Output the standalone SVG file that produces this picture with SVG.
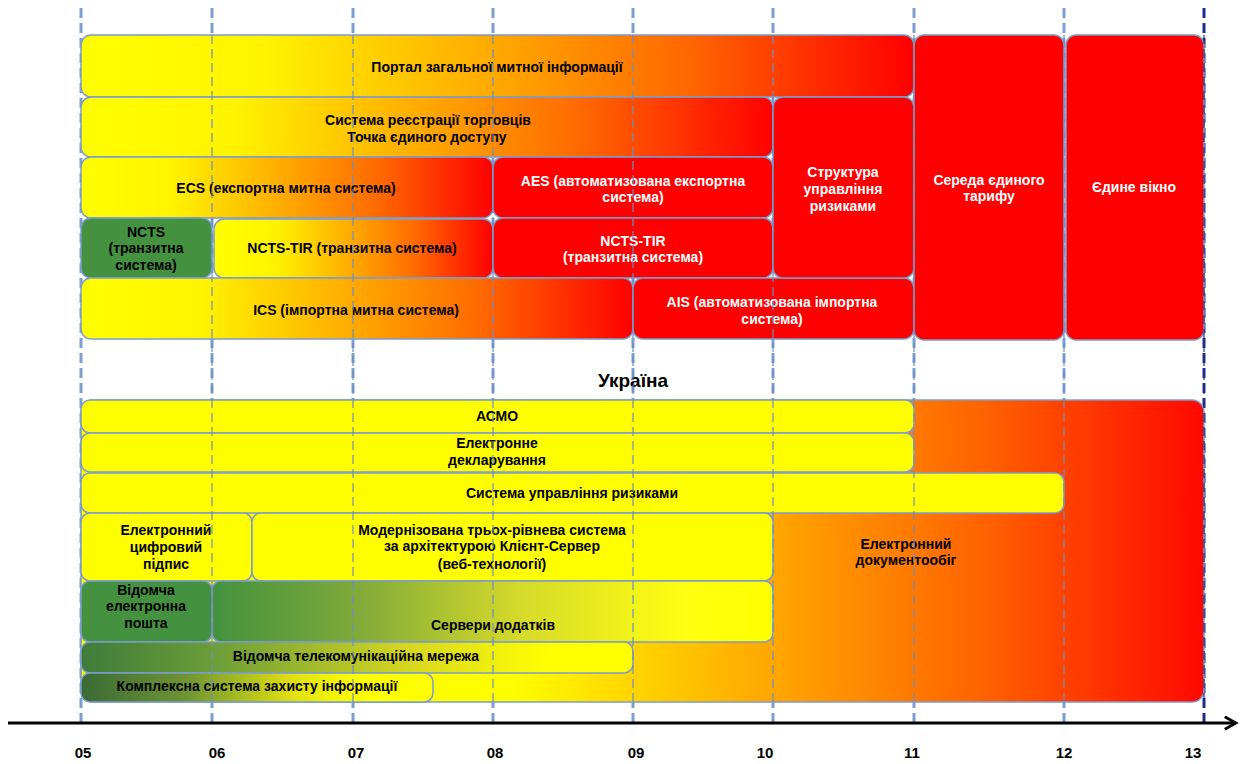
<svg xmlns="http://www.w3.org/2000/svg" width="1242" height="764" viewBox="0 0 1242 764">
<defs>
<linearGradient id="gYR" x1="0" y1="0" x2="1" y2="0">
<stop offset="0" stop-color="#FFFF00"/><stop offset="0.22" stop-color="#FFF300"/><stop offset="0.47" stop-color="#FFB000"/><stop offset="0.72" stop-color="#FF6A00"/><stop offset="1" stop-color="#FF0000"/>
</linearGradient>
<linearGradient id="gBig" x1="0" y1="0" x2="1" y2="0">
<stop offset="0" stop-color="#FFFF00"/><stop offset="0.38" stop-color="#FFFF00"/><stop offset="0.6" stop-color="#FFAC00"/><stop offset="0.8" stop-color="#FF6400"/><stop offset="1" stop-color="#FF0800"/>
</linearGradient>
<linearGradient id="gSrv" x1="0" y1="0" x2="1" y2="0">
<stop offset="0" stop-color="#43923F"/><stop offset="0.25" stop-color="#7DA83A"/><stop offset="0.55" stop-color="#D6DA2A"/><stop offset="0.85" stop-color="#FFFF10"/><stop offset="1" stop-color="#FFFF00"/>
</linearGradient>
<linearGradient id="gTel" x1="0" y1="0" x2="1" y2="0">
<stop offset="0" stop-color="#3E7C3A"/><stop offset="0.25" stop-color="#6E9E38"/><stop offset="0.6" stop-color="#D8D820"/><stop offset="0.85" stop-color="#FFFF00"/><stop offset="1" stop-color="#FFFF00"/>
</linearGradient>
<linearGradient id="gKom" x1="0" y1="0" x2="1" y2="0">
<stop offset="0" stop-color="#3A6A35"/><stop offset="0.3" stop-color="#6E9532"/><stop offset="0.6" stop-color="#E0E010"/><stop offset="0.8" stop-color="#FFFF00"/><stop offset="1" stop-color="#FFFF00"/>
</linearGradient>
<marker id="arr" viewBox="0 0 12 12" refX="10" refY="6" markerWidth="5" markerHeight="5" orient="auto" markerUnits="strokeWidth">
<path d="M1,1 L10,6 L1,11" fill="none" stroke="#000" stroke-width="2.2"/>
</marker>
<style>
.b{stroke:#7C9CCC;stroke-width:1.5}
.t{font-family:"Liberation Sans",Arial,sans-serif;font-weight:bold;font-size:14px;text-anchor:middle;fill:#000}
.w{fill:#fff}
.dk{stroke:#7A9FD0;stroke-width:3;stroke-dasharray:10 5;fill:none}
.dt{stroke:#6D8EC4;stroke-width:1.2;stroke-dasharray:9 5;fill:none}
.ax{font-family:"Liberation Sans",Arial,sans-serif;font-weight:bold;font-size:15px;text-anchor:middle;fill:#000}
</style>
</defs>
<rect width="1242" height="764" fill="#fff"/>
<g id="gridlines-back">
<path class="dk" d="M81,8V723M212,8V723M353,8V723M493,8V723M633,8V723M773,8V723M914,8V723M1064,8V723"/>
<path class="dk" d="M1204,8V723" style="stroke:#1F2E8C"/>
</g>
<g id="top">
<g id="n-portal"><rect class="b" x="81" y="35" width="833" height="62" rx="10" fill="url(#gYR)"/><text class="t" x="497" y="72">Портал загальної митної інформації</text></g>
<g id="n-reg"><rect class="b" x="81" y="97" width="692" height="60" rx="10" fill="url(#gYR)"/><text class="t" x="428" y="125">Система реєстрації торговців</text><text class="t" x="427" y="142">Точка єдиного доступу</text></g>
<g id="n-ecs"><rect class="b" x="81" y="157" width="412" height="61" rx="10" fill="url(#gYR)"/><text class="t" x="286" y="193">ECS (експортна митна система)</text></g>
<g id="n-aes"><rect class="b" x="493" y="157" width="280" height="61" rx="10" fill="#FF0000"/><text class="t w" x="633" y="186">AES (автоматизована експортна</text><text class="t w" x="633" y="202">система)</text></g>
<g id="n-ncts"><rect class="b" x="81" y="218" width="131" height="60" rx="10" fill="#44923F"/><text class="t" x="146" y="237">NCTS</text><text class="t" x="146" y="253">(транзитна</text><text class="t" x="146" y="270">система)</text></g>
<g id="n-nctstir1"><rect class="b" x="214" y="219" width="279" height="59" rx="10" fill="url(#gYR)"/><text class="t" x="352" y="253">NCTS-TIR (транзитна система)</text></g>
<g id="n-nctstir2"><rect class="b" x="493" y="218" width="280" height="60" rx="10" fill="#FF0000"/><text class="t w" x="633" y="246">NCTS-TIR</text><text class="t w" x="633" y="262">(транзитна система)</text></g>
<g id="n-ics"><rect class="b" x="81" y="278" width="552" height="61" rx="10" fill="url(#gYR)"/><text class="t" x="356" y="315">ICS (імпортна митна система)</text></g>
<g id="n-ais"><rect class="b" x="633" y="278" width="281" height="61" rx="10" fill="#FF0000"/><text class="t w" x="772" y="307">AIS (автоматизована імпортна</text><text class="t w" x="772" y="324">система)</text></g>
<g id="n-risk"><rect class="b" x="773" y="97" width="141" height="181" rx="10" fill="#FF0000"/><text class="t w" x="843" y="177">Структура</text><text class="t w" x="843" y="194">управління</text><text class="t w" x="843" y="211">ризиками</text></g>
<g id="n-tariff"><rect class="b" x="914" y="35" width="150" height="305" rx="10" fill="#FF0000"/><text class="t w" x="989" y="185">Середа єдиного</text><text class="t w" x="989" y="201">тарифу</text></g>
<g id="n-window"><rect class="b" x="1066" y="35" width="138" height="305" rx="10" fill="#FF0000"/><text class="t w" x="1134" y="192">Єдине вікно</text></g>
</g>
<g id="n-ukraine"><text class="t" x="633" y="387" style="font-size:19px">Україна</text></g>
<g id="bottom">
<g id="n-edoc"><rect class="b" x="81" y="400" width="1123" height="302" rx="12" fill="url(#gBig)"/><text class="t" x="906" y="549">Електронний</text><text class="t" x="906" y="565">документообіг</text></g>
<g id="n-asmo"><rect class="b" x="81" y="400" width="833" height="33" rx="9" fill="#FFFF00"/><text class="t" x="497" y="421">АСМО</text></g>
<g id="n-edecl"><rect class="b" x="81" y="433" width="833" height="39" rx="9" fill="#FFFF00"/><text class="t" x="497" y="448">Електронне</text><text class="t" x="497" y="465">декларування</text></g>
<g id="n-sur"><rect class="b" x="81" y="473" width="983" height="40" rx="9" fill="#FFFF00"/><text class="t" x="572" y="498">Система управління ризиками</text></g>
<g id="n-ecp"><rect class="b" x="81" y="513" width="171" height="68" rx="9" fill="#FFFF00"/><text class="t" x="166" y="535">Електронний</text><text class="t" x="166" y="552">цифровий</text><text class="t" x="166" y="569">підпис</text></g>
<g id="n-mod"><rect class="b" x="252" y="513" width="521" height="68" rx="9" fill="#FFFF00"/><text class="t" x="492" y="535">Модернізована трьох-рівнева система</text><text class="t" x="492" y="551">за архітектурою Клієнт-Сервер</text><text class="t" x="492" y="569">(веб-технології)</text></g>
<g id="n-srv"><rect class="b" x="212" y="581" width="561" height="61" rx="9" fill="url(#gSrv)"/><text class="t" x="493" y="630">Сервери додатків</text></g>
<g id="n-mail"><rect class="b" x="81" y="581" width="131" height="61" rx="9" fill="#44923F"/><text class="t" x="146" y="595">Відомча</text><text class="t" x="146" y="611">електронна</text><text class="t" x="146" y="628">пошта</text></g>
<g id="n-tel"><rect class="b" x="81" y="642" width="552" height="31" rx="9" fill="url(#gTel)"/><text class="t" x="356" y="661">Відомча телекомунікаційна мережа</text></g>
<g id="n-kom"><rect class="b" x="81" y="673" width="352" height="29" rx="9" fill="url(#gKom)"/><text class="t" x="257" y="691">Комплексна система захисту інформації</text></g>
</g>
<g id="gridlines-front">
<path class="dt" d="M212,35V702M353,35V702M493,35V702M633,35V702M773,35V702M914,35V702M1064,35V702"/>
<path class="dt" d="M1204,35V702" style="stroke:#1F2E8C"/>
</g>
<g id="connectors">
<line x1="8" y1="723" x2="1236" y2="723" stroke="#000" stroke-width="3" marker-end="url(#arr)"/>
</g>
<g id="axis-labels">
<text class="ax" x="83" y="758">05</text>
<text class="ax" x="217" y="758">06</text>
<text class="ax" x="356" y="758">07</text>
<text class="ax" x="495" y="758">08</text>
<text class="ax" x="636" y="758">09</text>
<text class="ax" x="765" y="758">10</text>
<text class="ax" x="912" y="758">11</text>
<text class="ax" x="1064" y="758">12</text>
<text class="ax" x="1193" y="758">13</text>
</g>
</svg>
